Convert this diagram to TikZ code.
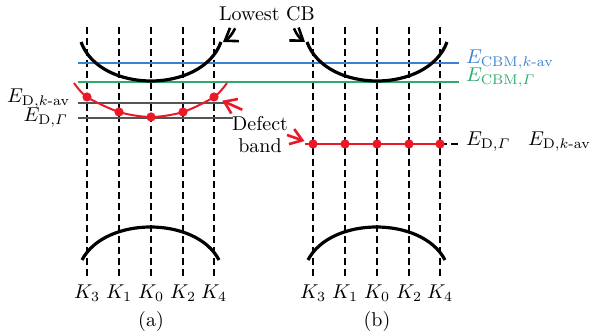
\documentclass[tikz,border=0pt]{standalone}
\usepackage{amsmath}
\usetikzlibrary{arrows.meta,positioning,calc}
\definecolor{cbmblue}{RGB}{60,130,210}
\definecolor{cbmgreen}{RGB}{45,170,110}
\definecolor{defred}{RGB}{235,25,40}
\definecolor{lvlgray}{RGB}{85,85,85}

\begin{document}
\begin{tikzpicture}[x=0.5pt, y=-0.5pt,
  kline/.style={dash pattern=on 3.5pt off 2pt, line width=1.1pt},
  band/.style={line width=1.6pt},
  lvl/.style={lvlgray, line width=0.6pt},
  dot/.style={circle, fill=defred, inner sep=0pt, minimum size=4.6pt},
  cbarr/.style={-{Straight Barb[length=2mm,width=2.8mm]}, line width=1.3pt},
  redarr/.style={-{Straight Barb[length=2mm,width=2.8mm]}, defred, line width=1.3pt}
]
\useasboundingbox (0,0) rectangle (593,335);

% k-point labels
\node (ka3) at (87,293) {$K_3$};
\node (ka1) at (119,293) {$K_1$};
\node (ka0) at (151,293) {$K_0$};
\node (ka2) at (183,293) {$K_2$};
\node (ka4) at (214,293) {$K_4$};
\node (kb3) at (313,293) {$K_3$};
\node (kb1) at (345,293) {$K_1$};
\node (kb0) at (377,293) {$K_0$};
\node (kb2) at (409,293) {$K_2$};
\node (kb4) at (440,293) {$K_4$};
\node (pa) at (151,322) {(a)};
\node (pb) at (377,322) {(b)};

\draw[kline] (87,27) -- (ka3.north);
\draw[kline] (119,27) -- (ka1.north);
\draw[kline] (151,27) -- (ka0.north);
\draw[kline] (183,27) -- (ka2.north);
\draw[kline] (214,27) -- (ka4.north);
\draw[kline] (313,27) -- (kb3.north);
\draw[kline] (345,27) -- (kb1.north);
\draw[kline] (377,27) -- (kb0.north);
\draw[kline] (409,27) -- (kb2.north);
\draw[kline] (440,27) -- (kb4.north);

% level labels
\node[anchor=west, text=cbmblue] (ecbmk) at (459,60) {$E_{\mathrm{CBM},k\text{-av}}$};
\node[anchor=west, text=cbmgreen] (ecbmg) at (459,78) {$E_{\mathrm{CBM},\varGamma}$};
\node[anchor=east] (edkl) at (77,99) {$E_{\mathrm{D},k\text{-av}}$};
\node[anchor=east] (edgl) at (75,118) {$E_{\mathrm{D},\varGamma}$};
\node[anchor=west] (edgr) at (459,142) {$E_{\mathrm{D},\varGamma}$};
\node[anchor=west] (edkr) at (521,142) {$E_{\mathrm{D},k\text{-av}}$};
\node (lowcb) at (267,14) {Lowest CB};
\node[align=center] (defect) at (260,135) {Defect\\[-1pt]band};

\draw[cbmblue, line width=1pt] (78,63) -- (ecbmk.west |- 0,63);
\draw[cbmgreen, line width=1pt] (78,82) -- (ecbmg.west |- 0,82);
\draw[lvl] (78,103) -- (226,103);
\draw[lvl] (78,118) -- (233,118);

% bands
\coordinate (cba) at (221,42);
\coordinate (cbb) at (307,42);
\draw[band] (81,42) .. controls (100,94) and (202,94) .. (cba);
\draw[band] (cbb) .. controls (326,94) and (428,94) .. (447,42);
\draw[band] (82,260) .. controls (105,216) and (196,216) .. (219,260);
\draw[band] (308,260) .. controls (331,216) and (422,216) .. (445,260);

% defect states
\draw[defred, line width=1pt] plot[smooth] coordinates {(74,83) (87,97) (119,112) (151,117) (183,112) (214,97) (227,83)};
\node[dot] (da3) at (87,97) {};
\node[dot] (da1) at (119,112) {};
\node[dot] (da0) at (151,117) {};
\node[dot] (da2) at (183,112) {};
\node[dot] (da4) at (214,97) {};
\draw[defred, line width=1pt] (305,144) -- (440,144);
\draw[kline] (440,144) -- (edgr.west |- 0,144);
\node[dot] (db3) at (313,144) {};
\node[dot] (db1) at (345,144) {};
\node[dot] (db0) at (377,144) {};
\node[dot] (db2) at (409,144) {};
\node[dot] (db4) at (440,144) {};

\draw[cbarr] ([xshift=11.5pt]lowcb.south west) to[bend left=15] ([xshift=1pt]cba);
\draw[cbarr] ([xshift=-14pt]lowcb.south east) to[bend right=15] ([xshift=-1pt]cbb);
\draw[redarr, shorten >=2pt] (defect.125) -- (da4);
\draw[redarr, shorten >=2pt] ([xshift=-4pt]defect.east) -- (db3);
\end{tikzpicture}
\end{document}
